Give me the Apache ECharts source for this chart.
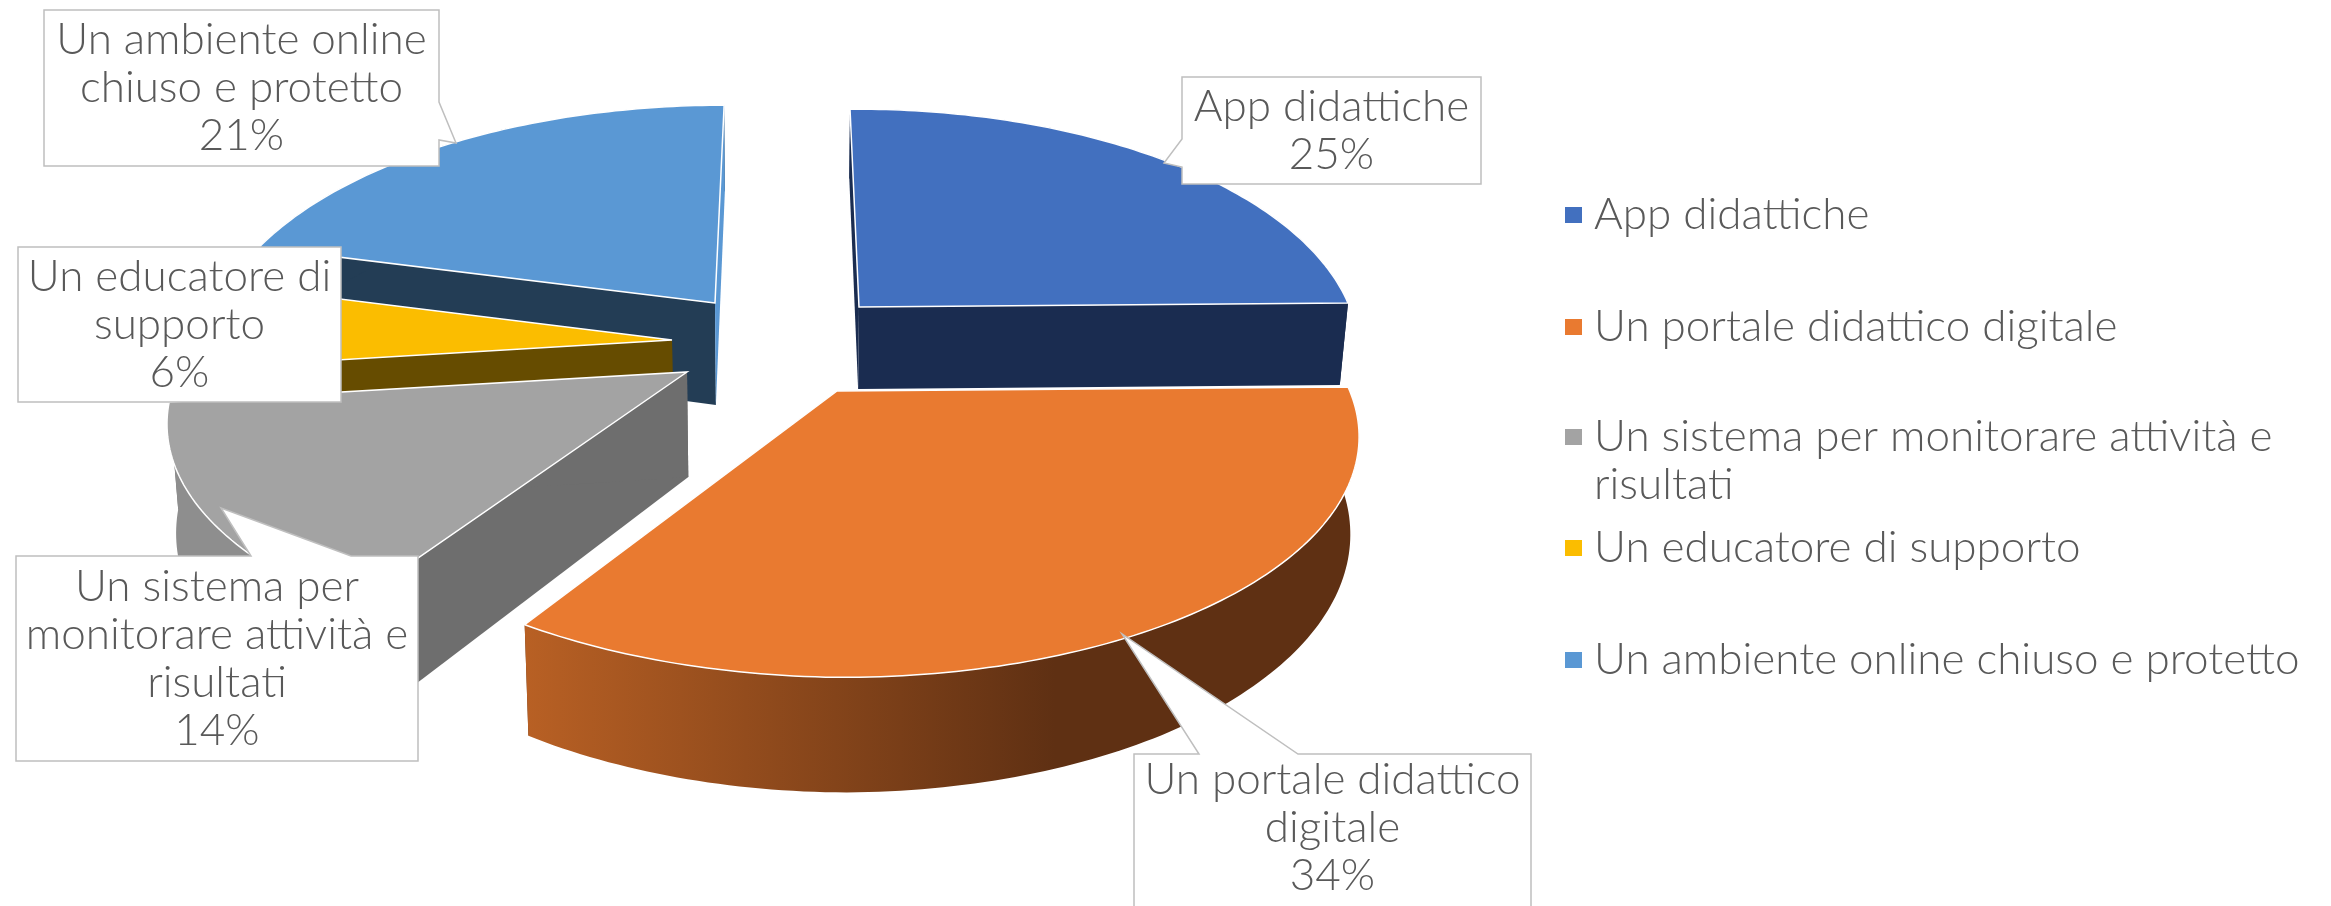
<!DOCTYPE html>
<html><head><meta charset="utf-8">
<style>html,body{margin:0;padding:0;background:#fff}#c{width:2331px;height:906px}</style>
<script src="https://cdn.jsdelivr.net/npm/echarts@6/dist/echarts.min.js"></script>
</head><body><div id="c"></div>
<script>
const categories = ['App didattiche','Un portale didattico digitale','Un sistema per monitorare attività e risultati','Un educatore di supporto','Un ambiente online chiuso e protetto'];
const values = [25,34,14,6,21];
const legendLines = ['App didattiche','Un portale didattico digitale','\nUn sistema per monitorare attività e\nrisultati','Un educatore di supporto','Un ambiente online chiuso e protetto'];
const labelLines = ['App didattiche','Un portale didattico\ndigitale','Un sistema per\nmonitorare attività e\nrisultati','Un educatore di\nsupporto','Un ambiente online\nchiuso e protetto'];

// Styles and layout (pixels), kept apart from the data
const topColors  = ['#4270BF','#E97A30','#A3A3A3','#FBBD00','#5A98D4'];
const cutColors  = ['#1A2C50','#5F3013','#6E6E6E','#664C00','#233D55'];
const backColors = ['#1A2C50','#5F3013','#6E6E6E','#664C00','#5A98D4'];
const apexX = [859,837,687,672,715];
const apexY = [307,391,372,340,303];
const radiusX = [489,511,508,492,495];
const depth = [82,94,105,100,102];
const viewXs = [801,774,774,774,774];
const drawOrder = [4,0,3,2,1];
const radiusY = 234, persp = 0.183, shrink = 0.015, tilt = 0.008;
const FONT = 'Lato', FW = 300, TXT = '#595959', FS = 44, LH = 48;
const boxes = [ // x0,y0,x1,y1 and callout polygon tail
  {b:[1182,77,1481,184], tail:[[1182,139],[1164,163],[1182,167]], side:'left'},
  {b:[1134,754,1531,912], tail:[[1199,754],[1122,634],[1298,754]], side:'top'},
  {b:[16,556,418,761], tail:[[251,556],[221,508],[351,556]], side:'top'},
  {b:[18,247,341,402], tail:[], side:'none'},
  {b:[44,10,439,166], tail:[[439,102],[456,143],[439,140]], side:'right'}
];
const legendCenters = [215,327,437,548,660];

const total = values.reduce((a,b)=>a+b,0);
function sliceAngles(i){
  let s = 0; for (let k=0;k<i;k++) s += values[k];
  return [s/total*Math.PI*2, (s+values[i])/total*Math.PI*2];
}
function project(i, th, r){
  const X = Math.sin(th)*r, Y = -Math.cos(th)*r;
  const s = 1/(1-persp*Y), vx = viewXs[i];
  const px = vx + (apexX[i]-vx + radiusX[i]*X)*s;
  let py = apexY[i] + radiusY*Y*s;
  py -= tilt*Math.max(0, px-apexX[i]);
  return {top:[px,py], bot:[vx+(px-vx)*(1-shrink), py+depth[i]*s]};
}
function renderSlice(i){
  return function(){
    const [a0,a1] = sliceAngles(i);
    const n = Math.max(8, Math.round((a1-a0)*180/Math.PI));
    const pts = [];
    for (let k=0;k<=n;k++) pts.push(project(i, a0+(a1-a0)*k/n, 1));
    const apex = project(i,0,0);
    const first = pts[0], last = pts[n];
    const topPoly = [apex.top].concat(pts.map(p=>p.top));
    const wallPoly = pts.map(p=>p.top).concat(pts.map(p=>p.bot).reverse());
    const wallFill = i===1
      ? {type:'linear',x:526,y:0,x2:1055,y2:0,global:true,colorStops:[{offset:0,color:'#B86024'},{offset:1,color:'#5F3013'}]}
      : i===2 ? '#8E8E8E' : cutColors[i];
    const poly = (points, fill, stroke)=>({type:'polygon',shape:{points},style:{fill,stroke:stroke||null,lineWidth:stroke?1.5:0}});
    const firstCut = poly([apex.top,first.top,first.bot,apex.bot], cutColors[i]);
    const lastCut = poly([apex.top,last.top,last.bot,apex.bot], backColors[i]);
    const wall = poly(wallPoly, wallFill);
    const topFace = poly(topPoly, topColors[i], '#ffffff');
    // Back-facing sliver of the first and last slices sits in front of their rim
    const children = i===0 ? [wall, lastCut, firstCut, topFace]
      : i===4 ? [firstCut, wall, lastCut, topFace]
      : [firstCut, lastCut, wall, topFace];
    return {type:'group',children};
  };
}
function renderLabel(params){
  const i = params.dataIndex, bx = boxes[i], [x0,y0,x1,y1] = bx.b;
  const t = bx.tail;
  let pts;
  if (bx.side==='left') pts=[[x0,y0],[x1,y0],[x1,y1],[x0,y1],t[2],t[1],t[0]];
  else if (bx.side==='top') pts=[[x0,y0],t[0],t[1],t[2],[x1,y0],[x1,y1],[x0,y1]];
  else if (bx.side==='right') pts=[[x0,y0],[x1,y0],t[0],t[1],t[2],[x1,y1],[x0,y1]];
  else pts=[[x0,y0],[x1,y0],[x1,y1],[x0,y1]];
  const pct = Math.round(values[i]/total*100)+'%';
  return {type:'group',children:[
    {type:'polygon',shape:{points:pts},style:{fill:'#fff',stroke:'#BFBFBF',lineWidth:1.5}},
    {type:'text',style:{text:labelLines[i]+'\n'+pct,x:(x0+x1)/2,y:(y0+Math.min(y1,906))/2+(i===1?-2:0),align:'center',verticalAlign:'middle',
      fontFamily:FONT,fontWeight:FW,fontSize:FS,lineHeight:LH,fill:TXT}}
  ]};
}
const series = drawOrder.map((i,o)=>({
  type:'custom',name:categories[i],coordinateSystem:'none',data:[values[i]],
  itemStyle:{color:topColors[i]},renderItem:renderSlice(i),z:2+o,silent:true
}));
series.push({type:'custom',name:'etichette',coordinateSystem:'none',data:values,renderItem:renderLabel,z:20,silent:true});

const legends = categories.map((c,i)=>{
  const lines = legendLines[i].split('\n').length;
  const h = LH*lines;
  return {
    left:1565, top:legendCenters[i]-h/2, padding:0, orient:'vertical', icon:'rect', itemWidth:17,itemHeight:16,
    selectedMode:false, data:[{name:c}],
    formatter:()=>legendLines[i],
    textStyle:{fontFamily:FONT,fontWeight:FW,fontSize:FS,lineHeight:LH,color:TXT,padding:[0,0,0,7]}
  };
});
const chart = echarts.init(document.getElementById('c'),null,{renderer:'canvas'});
chart.setOption({animation:false,backgroundColor:'#fff',legend:legends,series});
</script></body></html>
